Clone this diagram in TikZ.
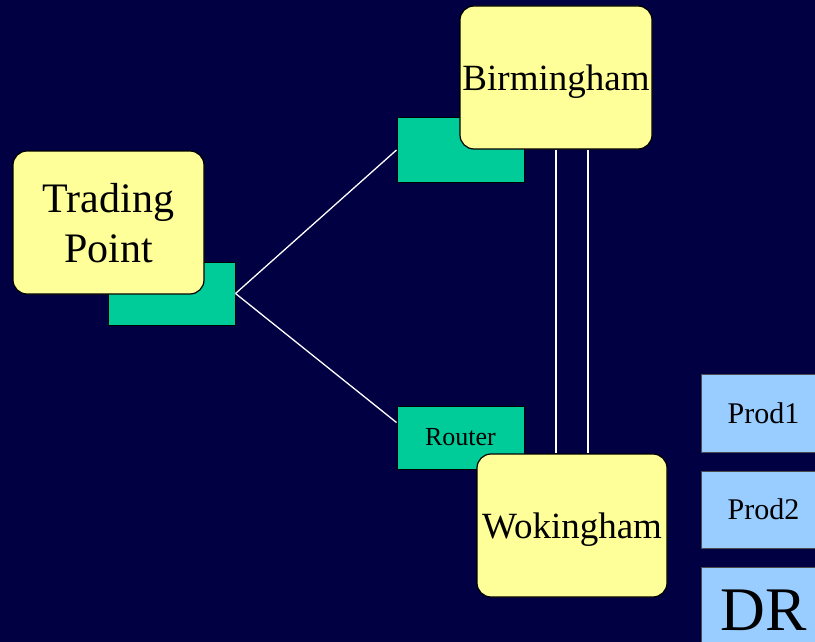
\documentclass[tikz,border=0pt]{standalone}
\usepackage{fontspec}
\setmainfont{Liberation Serif}
\usepackage{tikz}
\definecolor{navy}{RGB}{0,0,66}
\definecolor{siteyellow}{RGB}{255,255,153}
\definecolor{routergreen}{RGB}{0,204,153}
\definecolor{serverblue}{RGB}{153,204,255}

\begin{document}
\begin{tikzpicture}[x=1pt, y=-1pt,
	site/.style={draw=black, line width=1.2pt, fill=siteyellow, rounded corners=14pt, inner sep=0pt, text depth=0pt, font=\fontsize{37}{44}\selectfont},
	router/.style={draw=black, line width=1pt, fill=routergreen, inner sep=0pt, minimum width=127pt, minimum height=63pt, font=\fontsize{26}{30}\selectfont},
	server/.style={draw=black!70, line width=0.8pt, fill=serverblue, inner sep=0pt, minimum width=125pt, minimum height=78pt, font=\fontsize{30}{36}\selectfont},
	link/.style={white, line width=1.3pt}]
	%background
	\useasboundingbox (0,0) rectangle (815,642);
	\clip (0,0) rectangle (815,642);
	\fill[navy] (0,0) rectangle (815,642);

	%routers
	\node[router] (tprouter) at (171.5, 293.5) {};
	\node[router, minimum height=64pt] (brouter) at (460.5, 150) {};
	\node[router] (wrouter) at (460.5, 437.5) {\raisebox{-1.5pt}{Router}};

	%links
	\draw[link] (tprouter.east) -- (brouter.west);
	\draw[link] (tprouter.east) -- ([yshift=15pt]wrouter.west);

	%sites
	\node[site, minimum width=191pt, minimum height=143pt, align=center, font=\fontsize{42}{50}\selectfont] (trading) at (108.5, 222.5) {Trading\\Point};
	\node[site, minimum width=192pt, minimum height=143pt] (birmingham) at (556, 77.5) {Birmingham};
	\node[site, minimum width=190pt, minimum height=143pt] (wokingham) at (572, 525.5) {Wokingham};

	\draw[link] ([xshift=-16pt]wokingham.north) -- ([xshift=-16pt]wokingham.north |- birmingham.south);
	\draw[link] ([xshift=16pt]wokingham.north) -- ([xshift=16pt]wokingham.north |- birmingham.south);

	%servers
	\node[server] (prod1) at (763.5, 413) {Prod1};
	\node[server, minimum height=77pt] (prod2) at (763.5, 509.5) {Prod2};
	\node[server, minimum height=87pt, font=\fontsize{62}{70}\selectfont] (dr) at (763.5, 610.5) {DR};
\end{tikzpicture}
\end{document}
